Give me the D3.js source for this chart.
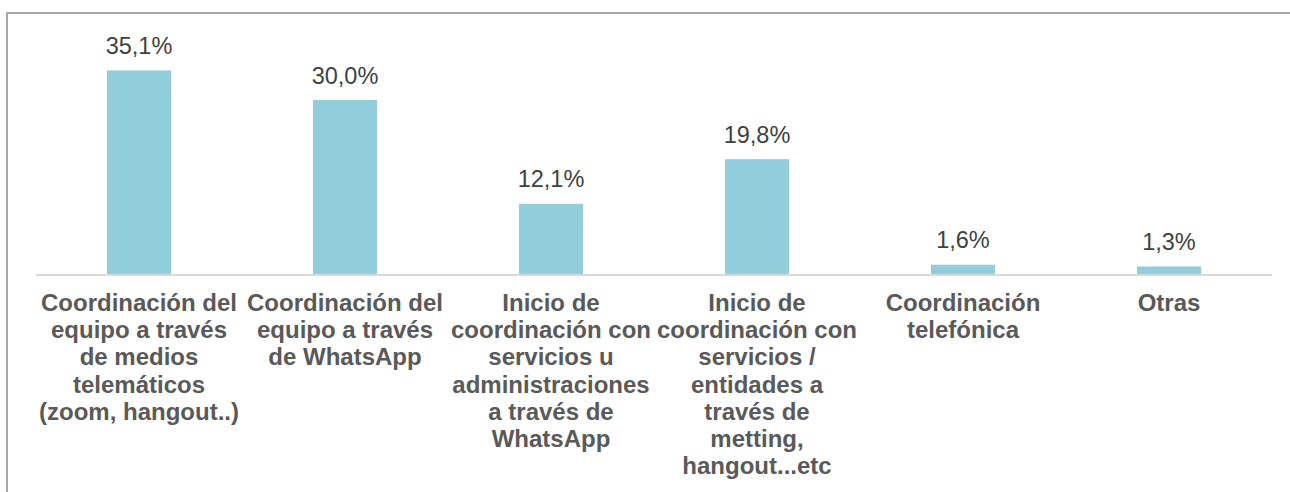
<!DOCTYPE html>
<html>
<head>
<meta charset="utf-8">
<script src="https://cdn.jsdelivr.net/npm/d3@7"></script>
<style>
  html, body { margin: 0; padding: 0; background: #fff; }
  svg { display: block; }
</style>
</head>
<body>
<div id="chart"></div>
<script>
const categories = [
  'Coordinación del\nequipo a través\nde medios\ntelemáticos\n(zoom, hangout..)',
  'Coordinación del\nequipo a través\nde WhatsApp',
  'Inicio de\ncoordinación con\nservicios u\nadministraciones\na través de\nWhatsApp',
  'Inicio de\ncoordinación con\nservicios /\nentidades a\ntravés de\nmetting,\nhangout...etc',
  'Coordinación\ntelefónica',
  'Otras'
];
const values = [35.1, 30.0, 12.1, 19.8, 1.6, 1.3];

const width = 1290;
const height = 492;
const baseY = 274;

const svg = d3.select('#chart')
  .append('svg')
  .attr('width', width)
  .attr('height', height);

// outer frame (only top and left are visible)
svg.append('path')
  .attr('d', `M7,${height} V13 H${width}`)
  .attr('fill', 'none')
  .attr('stroke', '#a6a6a6')
  .attr('stroke-width', 2);

const x = d3.scaleBand()
  .domain(d3.range(categories.length))
  .range([36, 1272])
  .paddingInner(0.689)
  .paddingOuter(0.3445);

const y = d3.scaleLinear()
  .domain([0, 40])
  .range([baseY, baseY - 232]);

svg.selectAll('rect.bar')
  .data(values)
  .join('rect')
  .attr('class', 'bar')
  .attr('x', (d, i) => x(i))
  .attr('y', d => y(d))
  .attr('width', x.bandwidth())
  .attr('height', d => y(0) - y(d))
  .attr('fill', '#92cddc');

// baseline
svg.append('line')
  .attr('x1', 36)
  .attr('x2', 1272)
  .attr('y1', baseY + 1)
  .attr('y2', baseY + 1)
  .attr('stroke', '#d9d9d9')
  .attr('stroke-width', 2);

const fmt = d => d.toFixed(1).replace('.', ',') + '%';

svg.selectAll('text.value')
  .data(values)
  .join('text')
  .attr('class', 'value')
  .attr('x', (d, i) => x(i) + x.bandwidth() / 2)
  .attr('y', d => y(d) - 16.5)
  .attr('text-anchor', 'middle')
  .attr('font-family', '"Liberation Sans", Arial, sans-serif')
  .attr('font-size', 23.5)
  .attr('fill', '#404040')
  .text(fmt);

const lineHeight = 27.2;
const catLabels = svg.selectAll('text.cat')
  .data(categories)
  .join('text')
  .attr('class', 'cat')
  .attr('text-anchor', 'middle')
  .attr('font-family', '"Liberation Sans", Arial, sans-serif')
  .attr('font-weight', 'bold')
  .attr('font-size', 24)
  .attr('fill', '#595959');

catLabels.each(function (d, i) {
  const cx = x(i) + x.bandwidth() / 2;
  d3.select(this).selectAll('tspan')
    .data(d.split('\n'))
    .join('tspan')
    .attr('x', cx)
    .attr('y', (line, j) => 311 + j * lineHeight)
    .text(line => line);
});
</script>
</body>
</html>
